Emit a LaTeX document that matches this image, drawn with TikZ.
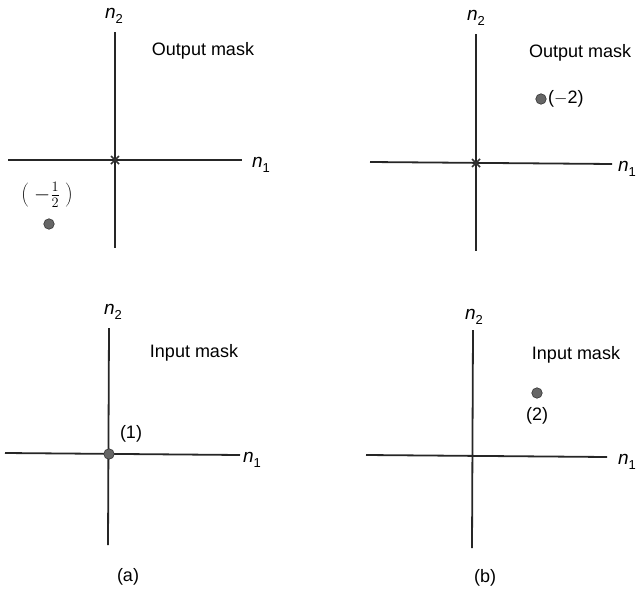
\documentclass[tikz,border=0pt]{standalone}
\usepackage{fontspec}
\setmainfont{Liberation Sans}
\usetikzlibrary{calc}
\begin{document}
\begin{tikzpicture}[x=1pt,y=-1pt,
  axis/.style={draw=black!85,line width=1.8pt},
  lbl/.style={inner sep=0pt,font=\fontsize{18}{21}\selectfont},
  axlbl/.style={inner sep=0pt,font=\fontsize{19}{21}\selectfont},
  spot/.style={circle,fill=black!60,draw=black!80,line width=0.6pt,minimum size=10.5pt,inner sep=0pt},
  xmark/.style={draw=black!80,line width=1.5pt}]
\newcommand{\nlab}[1]{\textit{n}\raisebox{-0.45ex}{\fontsize{13}{14}\selectfont #1}}
\useasboundingbox (0,0) rectangle (637,589);
% ---------- (a) top: output mask
\coordinate (aoT) at (115,32); \coordinate (aoB) at (115,248);
\coordinate (aoL) at (8,160);  \coordinate (aoR) at (242,160);
\coordinate (aoO) at (115,160);
\draw[axis] (aoT) -- (aoB);
\draw[axis] (aoL) -- (aoR);
\draw[xmark] ($(aoO)+(-4,-4)$) -- ($(aoO)+(4,4)$) ($(aoO)+(-4,4)$) -- ($(aoO)+(4,-4)$);
\node[axlbl] (aon2) at (114,16) {\nlab{2}};
\node[axlbl] (aon1) at (261,165) {\nlab{1}};
\node[lbl] (aotitle) at (203,51) {Output mask};
\node[lbl,font=\fontsize{20}{22}\selectfont] (aoval) at (47,195) {$\left(\;-\frac{1}{2}\;\right)$};
\node[spot] (aodot) at (49,224) {};
% ---------- (b) top: output mask
\coordinate (boT) at (476,34); \coordinate (boB) at (476,251);
\coordinate (boL) at (370,162); \coordinate (boR) at (612,164);
\coordinate (boO) at (476,163);
\draw[axis] (boT) -- (boB);
\draw[axis] (boL) -- (boR);
\draw[xmark] ($(boO)+(-4,-4)$) -- ($(boO)+(4,4)$) ($(boO)+(-4,4)$) -- ($(boO)+(4,-4)$);
\node[axlbl] (bon2) at (476,18) {\nlab{2}};
\node[axlbl,anchor=east] (bon1) at (636,169) {\nlab{1}};
\node[lbl,anchor=west] (botitle) at (529,53) {Output mask};
\node[spot] (bodot) at (541,99) {};
\node[lbl,anchor=west] (boval) at (548,99) {($-$2)};
% ---------- (a) bottom: input mask
\coordinate (aiT) at (109,328); \coordinate (aiB) at (108,545);
\coordinate (aiL) at (5,453);   \coordinate (aiR) at (240,455);
\draw[axis] (aiT) -- (aiB);
\draw[axis] (aiL) -- (aiR);
\node[spot] (aidot) at (109,454) {};
\node[axlbl] (ain2) at (113,312) {\nlab{2}};
\node[axlbl] (ain1) at (252,460) {\nlab{1}};
\node[lbl] (aititle) at (194,353) {Input mask};
\node[lbl] (aival) at (131,434) {(1)};
\node[lbl] (acap) at (128,577) {(a)};
% ---------- (b) bottom: input mask
\coordinate (biT) at (473,330); \coordinate (biB) at (472,548);
\coordinate (biL) at (366,455); \coordinate (biR) at (607,457);
\draw[axis] (biT) -- (biB);
\draw[axis] (biL) -- (biR);
\node[axlbl] (bin2) at (474,317) {\nlab{2}};
\node[axlbl,anchor=east] (bin1) at (636,462) {\nlab{1}};
\node[lbl] (bititle) at (576,355) {Input mask};
\node[spot] (bidot) at (537,393) {};
\node[lbl] (bival) at (537,416) {(2)};
\node[lbl] (bcap) at (485,578) {(b)};
\end{tikzpicture}
\end{document}
